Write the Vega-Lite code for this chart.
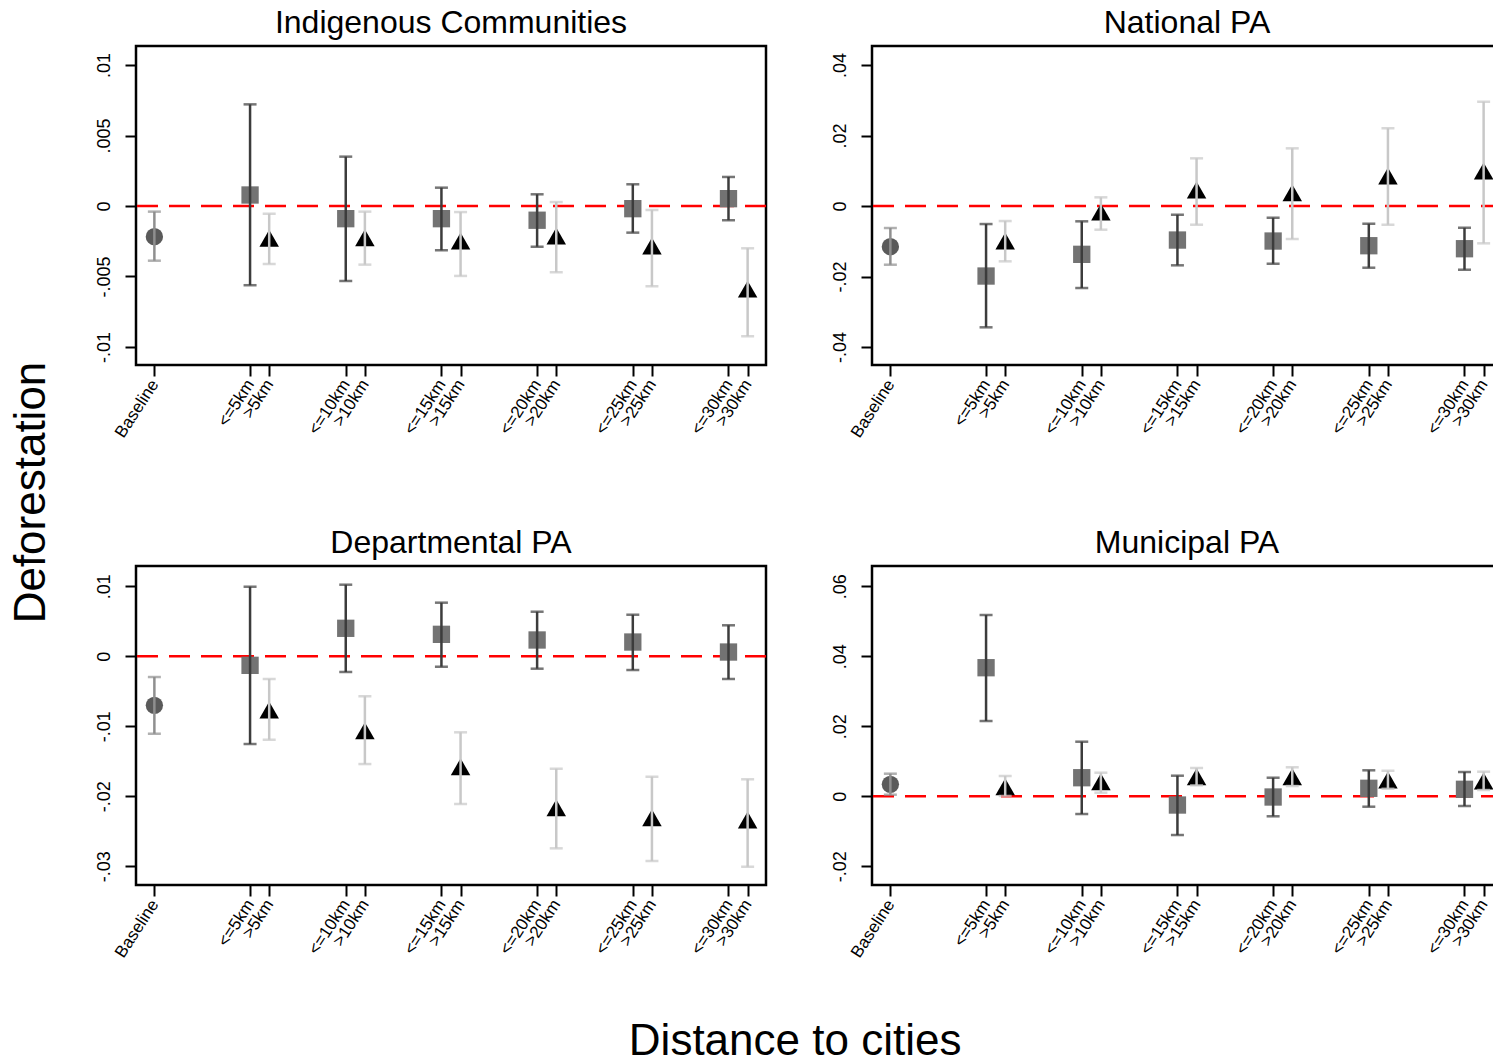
{
"$schema": "https://vega.github.io/schema/vega-lite/v6.json",
"padding": {"left": 9, "top": 5, "right": 0, "bottom": 0},
"background": "white",
"config": {
  "font": "Liberation Sans",
  "view": {"stroke": "#000000", "strokeWidth": 2.5},
  "axis": {"domain": false, "grid": false, "ticks": true, "tickSize": 11, "tickWidth": 2, "tickColor": "#000000", "labelFont": "Liberation Sans", "labelFontSize": 17, "labelColor": "#000000"},
  "axisX": {"labelAngle": -57, "labelAlign": "right", "labelBaseline": "middle", "labelPadding": 5},
  "axisY": {"labelAngle": -90, "labelAlign": "center", "labelBaseline": "bottom", "labelPadding": 12, "labelFontSize": 18},
  "title": {"font": "Liberation Sans", "fontSize": 32, "fontWeight": "normal", "color": "#000000", "offset": 6}
},
"datasets": {
  "ic": [
    {"cat": "Baseline", "type": "base", "est": -0.00218, "lo": -0.00388, "hi": -0.0004},
    {"cat": "<=5km", "type": "le", "est": 0.00078, "lo": -0.00562, "hi": 0.00721},
    {"cat": ">5km", "type": "gt", "est": -0.00229, "lo": -0.00411, "hi": -0.00055},
    {"cat": "<=10km", "type": "le", "est": -0.0009, "lo": -0.00532, "hi": 0.0035},
    {"cat": ">10km", "type": "gt", "est": -0.00225, "lo": -0.00416, "hi": -0.0004},
    {"cat": "<=15km", "type": "le", "est": -0.0009, "lo": -0.00314, "hi": 0.0013},
    {"cat": ">15km", "type": "gt", "est": -0.00248, "lo": -0.00496, "hi": -0.00043},
    {"cat": "<=20km", "type": "le", "est": -0.00101, "lo": -0.00289, "hi": 0.00083},
    {"cat": ">20km", "type": "gt", "est": -0.00213, "lo": -0.0047, "hi": 0.00028},
    {"cat": "<=25km", "type": "le", "est": -0.00019, "lo": -0.00189, "hi": 0.00154},
    {"cat": ">25km", "type": "gt", "est": -0.00284, "lo": -0.0057, "hi": -0.00028},
    {"cat": "<=30km", "type": "le", "est": 0.00052, "lo": -0.00101, "hi": 0.00206},
    {"cat": ">30km", "type": "gt", "est": -0.0059, "lo": -0.00924, "hi": -0.003}
  ],
  "npa": [
    {"cat": "Baseline", "type": "base", "est": -0.01155, "lo": -0.01665, "hi": -0.00624},
    {"cat": "<=5km", "type": "le", "est": -0.01986, "lo": -0.03441, "hi": -0.00511},
    {"cat": ">5km", "type": "gt", "est": -0.00993, "lo": -0.01569, "hi": -0.00426},
    {"cat": "<=10km", "type": "le", "est": -0.0137, "lo": -0.02326, "hi": -0.00434},
    {"cat": ">10km", "type": "gt", "est": -0.0017, "lo": -0.00672, "hi": 0.00247},
    {"cat": "<=15km", "type": "le", "est": -0.00965, "lo": -0.01682, "hi": -0.00247},
    {"cat": ">15km", "type": "gt", "est": 0.00454, "lo": -0.0053, "hi": 0.01353},
    {"cat": "<=20km", "type": "le", "est": -0.00993, "lo": -0.01637, "hi": -0.00332},
    {"cat": ">20km", "type": "gt", "est": 0.00377, "lo": -0.00936, "hi": 0.01637},
    {"cat": "<=25km", "type": "le", "est": -0.01126, "lo": -0.0175, "hi": -0.00502},
    {"cat": ">25km", "type": "gt", "est": 0.00851, "lo": -0.0053, "hi": 0.02204},
    {"cat": "<=30km", "type": "le", "est": -0.01211, "lo": -0.01807, "hi": -0.00616},
    {"cat": ">30km", "type": "gt", "est": 0.00993, "lo": -0.01058, "hi": 0.02959}
  ],
  "dpa": [
    {"cat": "Baseline", "type": "base", "est": -0.007, "lo": -0.01106, "hi": -0.00296},
    {"cat": "<=5km", "type": "le", "est": -0.00129, "lo": -0.01253, "hi": 0.00994},
    {"cat": ">5km", "type": "gt", "est": -0.00767, "lo": -0.01191, "hi": -0.00324},
    {"cat": "<=10km", "type": "le", "est": 0.004, "lo": -0.00224, "hi": 0.01023},
    {"cat": ">10km", "type": "gt", "est": -0.01063, "lo": -0.01539, "hi": -0.00571},
    {"cat": "<=15km", "type": "le", "est": 0.00314, "lo": -0.00149, "hi": 0.00766},
    {"cat": ">15km", "type": "gt", "est": -0.01577, "lo": -0.0211, "hi": -0.01086},
    {"cat": "<=20km", "type": "le", "est": 0.00233, "lo": -0.00177, "hi": 0.00637},
    {"cat": ">20km", "type": "gt", "est": -0.02163, "lo": -0.02743, "hi": -0.01606},
    {"cat": "<=25km", "type": "le", "est": 0.00204, "lo": -0.00196, "hi": 0.00594},
    {"cat": ">25km", "type": "gt", "est": -0.02306, "lo": -0.02924, "hi": -0.0172},
    {"cat": "<=30km", "type": "le", "est": 0.00061, "lo": -0.00324, "hi": 0.00443},
    {"cat": ">30km", "type": "gt", "est": -0.02339, "lo": -0.03006, "hi": -0.01757}
  ],
  "mpa": [
    {"cat": "Baseline", "type": "base", "est": 0.00343, "lo": 0.00046, "hi": 0.00646},
    {"cat": "<=5km", "type": "le", "est": 0.03674, "lo": 0.02151, "hi": 0.0518},
    {"cat": ">5km", "type": "gt", "est": 0.00274, "lo": 0.0001, "hi": 0.0058},
    {"cat": "<=10km", "type": "le", "est": 0.00531, "lo": -0.00506, "hi": 0.0156},
    {"cat": ">10km", "type": "gt", "est": 0.00417, "lo": 0.00103, "hi": 0.00674},
    {"cat": "<=15km", "type": "le", "est": -0.00249, "lo": -0.01106, "hi": 0.00589},
    {"cat": ">15km", "type": "gt", "est": 0.0056, "lo": 0.00314, "hi": 0.00809},
    {"cat": "<=20km", "type": "le", "est": -0.0002, "lo": -0.00571, "hi": 0.00531},
    {"cat": ">20km", "type": "gt", "est": 0.0056, "lo": 0.00294, "hi": 0.00829},
    {"cat": "<=25km", "type": "le", "est": 0.00229, "lo": -0.00297, "hi": 0.00743},
    {"cat": ">25km", "type": "gt", "est": 0.00466, "lo": 0.00217, "hi": 0.00731},
    {"cat": "<=30km", "type": "le", "est": 0.002, "lo": -0.00277, "hi": 0.00694},
    {"cat": ">30km", "type": "gt", "est": 0.00437, "lo": 0.0018, "hi": 0.00703}
  ]
},
"title": {"text": "Distance to cities", "orient": "bottom", "fontSize": 44, "offset": 59, "dx": 38, "anchor": "middle"},
"vconcat": [{
  "title": {"text": "Deforestation", "orient": "left", "fontSize": 44, "offset": 40, "dx": -9, "anchor": "middle"},
  "spacing": 83,
  "vconcat": [
    {"spacing": 60, "hconcat": [
      {"data": {"name": "ic"}, "width": 630, "height": 319, "title": "Indigenous Communities",
       "layer": [
        {"data": {"values": [{}]}, "mark": {"type": "rule", "color": "#ff0000", "strokeDash": [21, 11], "strokeWidth": 2.5},
         "encoding": {"y": {"datum": 0, "type": "quantitative", "scale": {"domain": [-0.01128, 0.01135], "nice": false, "zero": false}, "axis": {"title": null, "values": [-0.01, -0.005, 0, 0.005, 0.01], "labelExpr": "datum.value == 0 ? '0' : (datum.value < 0 ? '-' : '') + replace(format(abs(datum.value), ''), '0.', '.')"}}}},
        {"mark": {"type": "point", "filled": true, "opacity": 1, "strokeWidth": 0},
         "encoding": {
          "x": {"field": "cat", "type": "ordinal", "scale": {"type": "point", "padding": 0.96, "domain": ["Baseline","a1","a2","a3","a4","<=5km",">5km","b1","b2","b3","<=10km",">10km","c1","c2","c3","<=15km",">15km","d1","d2","d3","<=20km",">20km","e1","e2","e3","<=25km",">25km","f1","f2","f3","<=30km",">30km"]}, "axis": {"title": null, "values": ["Baseline","<=5km",">5km","<=10km",">10km","<=15km",">15km","<=20km",">20km","<=25km",">25km","<=30km",">30km"]}},
          "y": {"field": "est", "type": "quantitative", "scale": {"domain": [-0.01128, 0.01135], "nice": false, "zero": false}, "axis": {"title": null, "values": [-0.01, -0.005, 0, 0.005, 0.01], "labelExpr": "datum.value == 0 ? '0' : (datum.value < 0 ? '-' : '') + replace(format(abs(datum.value), ''), '0.', '.')"}},
          "color": {"condition": [{"test": "datum.type === 'gt'", "value": "#000000"}, {"test": "datum.type === 'base'", "value": "#5a5a5a"}], "value": "#737373"},
          "shape": {"condition": [{"test": "datum.type === 'gt'", "value": "triangle-up"}, {"test": "datum.type === 'base'", "value": "circle"}], "value": "square"},
          "size": {"condition": [{"test": "datum.type === 'gt'", "value": 380}], "value": 300}}},
        {"mark": {"type": "rule", "strokeWidth": 2.5},
         "encoding": {
          "x": {"field": "cat", "type": "ordinal", "scale": {"type": "point", "padding": 0.96, "domain": ["Baseline","a1","a2","a3","a4","<=5km",">5km","b1","b2","b3","<=10km",">10km","c1","c2","c3","<=15km",">15km","d1","d2","d3","<=20km",">20km","e1","e2","e3","<=25km",">25km","f1","f2","f3","<=30km",">30km"]}, "axis": {"title": null, "values": ["Baseline","<=5km",">5km","<=10km",">10km","<=15km",">15km","<=20km",">20km","<=25km",">25km","<=30km",">30km"]}},
          "y": {"field": "lo", "type": "quantitative", "scale": {"domain": [-0.01128, 0.01135], "nice": false, "zero": false}, "axis": {"title": null, "values": [-0.01, -0.005, 0, 0.005, 0.01], "labelExpr": "datum.value == 0 ? '0' : (datum.value < 0 ? '-' : '') + replace(format(abs(datum.value), ''), '0.', '.')"}},
          "y2": {"field": "hi"},
          "color": {"condition": [{"test": "datum.type === 'gt'", "value": "#c8c8c8"}, {"test": "datum.type === 'base'", "value": "#8f8f8f"}], "value": "#3c3c3c"}}},
        {"mark": {"type": "tick", "thickness": 2.5, "size": 13},
         "encoding": {
          "x": {"field": "cat", "type": "ordinal", "scale": {"type": "point", "padding": 0.96, "domain": ["Baseline","a1","a2","a3","a4","<=5km",">5km","b1","b2","b3","<=10km",">10km","c1","c2","c3","<=15km",">15km","d1","d2","d3","<=20km",">20km","e1","e2","e3","<=25km",">25km","f1","f2","f3","<=30km",">30km"]}, "axis": {"title": null, "values": ["Baseline","<=5km",">5km","<=10km",">10km","<=15km",">15km","<=20km",">20km","<=25km",">25km","<=30km",">30km"]}},
          "y": {"field": "lo", "type": "quantitative", "scale": {"domain": [-0.01128, 0.01135], "nice": false, "zero": false}, "axis": {"title": null, "values": [-0.01, -0.005, 0, 0.005, 0.01], "labelExpr": "datum.value == 0 ? '0' : (datum.value < 0 ? '-' : '') + replace(format(abs(datum.value), ''), '0.', '.')"}},
          "color": {"condition": [{"test": "datum.type === 'gt'", "value": "#c8c8c8"}, {"test": "datum.type === 'base'", "value": "#8f8f8f"}], "value": "#3c3c3c"}}},
        {"mark": {"type": "tick", "thickness": 2.5, "size": 13},
         "encoding": {
          "x": {"field": "cat", "type": "ordinal", "scale": {"type": "point", "padding": 0.96, "domain": ["Baseline","a1","a2","a3","a4","<=5km",">5km","b1","b2","b3","<=10km",">10km","c1","c2","c3","<=15km",">15km","d1","d2","d3","<=20km",">20km","e1","e2","e3","<=25km",">25km","f1","f2","f3","<=30km",">30km"]}, "axis": {"title": null, "values": ["Baseline","<=5km",">5km","<=10km",">10km","<=15km",">15km","<=20km",">20km","<=25km",">25km","<=30km",">30km"]}},
          "y": {"field": "hi", "type": "quantitative", "scale": {"domain": [-0.01128, 0.01135], "nice": false, "zero": false}, "axis": {"title": null, "values": [-0.01, -0.005, 0, 0.005, 0.01], "labelExpr": "datum.value == 0 ? '0' : (datum.value < 0 ? '-' : '') + replace(format(abs(datum.value), ''), '0.', '.')"}},
          "color": {"condition": [{"test": "datum.type === 'gt'", "value": "#c8c8c8"}, {"test": "datum.type === 'base'", "value": "#8f8f8f"}], "value": "#3c3c3c"}}}
       ]},
      {"data": {"name": "npa"}, "width": 630, "height": 319, "title": "National PA",
       "layer": [
        {"data": {"values": [{}]}, "mark": {"type": "rule", "color": "#ff0000", "strokeDash": [21, 11], "strokeWidth": 2.5},
         "encoding": {"y": {"datum": 0, "type": "quantitative", "scale": {"domain": [-0.0451, 0.0454], "nice": false, "zero": false}, "axis": {"title": null, "values": [-0.04, -0.02, 0, 0.02, 0.04], "labelExpr": "datum.value == 0 ? '0' : (datum.value < 0 ? '-' : '') + replace(format(abs(datum.value), ''), '0.', '.')"}}}},
        {"mark": {"type": "point", "filled": true, "opacity": 1, "strokeWidth": 0},
         "encoding": {
          "x": {"field": "cat", "type": "ordinal", "scale": {"type": "point", "padding": 0.96, "domain": ["Baseline","a1","a2","a3","a4","<=5km",">5km","b1","b2","b3","<=10km",">10km","c1","c2","c3","<=15km",">15km","d1","d2","d3","<=20km",">20km","e1","e2","e3","<=25km",">25km","f1","f2","f3","<=30km",">30km"]}, "axis": {"title": null, "values": ["Baseline","<=5km",">5km","<=10km",">10km","<=15km",">15km","<=20km",">20km","<=25km",">25km","<=30km",">30km"]}},
          "y": {"field": "est", "type": "quantitative", "scale": {"domain": [-0.0451, 0.0454], "nice": false, "zero": false}, "axis": {"title": null, "values": [-0.04, -0.02, 0, 0.02, 0.04], "labelExpr": "datum.value == 0 ? '0' : (datum.value < 0 ? '-' : '') + replace(format(abs(datum.value), ''), '0.', '.')"}},
          "color": {"condition": [{"test": "datum.type === 'gt'", "value": "#000000"}, {"test": "datum.type === 'base'", "value": "#5a5a5a"}], "value": "#737373"},
          "shape": {"condition": [{"test": "datum.type === 'gt'", "value": "triangle-up"}, {"test": "datum.type === 'base'", "value": "circle"}], "value": "square"},
          "size": {"condition": [{"test": "datum.type === 'gt'", "value": 380}], "value": 300}}},
        {"mark": {"type": "rule", "strokeWidth": 2.5},
         "encoding": {
          "x": {"field": "cat", "type": "ordinal", "scale": {"type": "point", "padding": 0.96, "domain": ["Baseline","a1","a2","a3","a4","<=5km",">5km","b1","b2","b3","<=10km",">10km","c1","c2","c3","<=15km",">15km","d1","d2","d3","<=20km",">20km","e1","e2","e3","<=25km",">25km","f1","f2","f3","<=30km",">30km"]}, "axis": {"title": null, "values": ["Baseline","<=5km",">5km","<=10km",">10km","<=15km",">15km","<=20km",">20km","<=25km",">25km","<=30km",">30km"]}},
          "y": {"field": "lo", "type": "quantitative", "scale": {"domain": [-0.0451, 0.0454], "nice": false, "zero": false}, "axis": {"title": null, "values": [-0.04, -0.02, 0, 0.02, 0.04], "labelExpr": "datum.value == 0 ? '0' : (datum.value < 0 ? '-' : '') + replace(format(abs(datum.value), ''), '0.', '.')"}},
          "y2": {"field": "hi"},
          "color": {"condition": [{"test": "datum.type === 'gt'", "value": "#c8c8c8"}, {"test": "datum.type === 'base'", "value": "#8f8f8f"}], "value": "#3c3c3c"}}},
        {"mark": {"type": "tick", "thickness": 2.5, "size": 13},
         "encoding": {
          "x": {"field": "cat", "type": "ordinal", "scale": {"type": "point", "padding": 0.96, "domain": ["Baseline","a1","a2","a3","a4","<=5km",">5km","b1","b2","b3","<=10km",">10km","c1","c2","c3","<=15km",">15km","d1","d2","d3","<=20km",">20km","e1","e2","e3","<=25km",">25km","f1","f2","f3","<=30km",">30km"]}, "axis": {"title": null, "values": ["Baseline","<=5km",">5km","<=10km",">10km","<=15km",">15km","<=20km",">20km","<=25km",">25km","<=30km",">30km"]}},
          "y": {"field": "lo", "type": "quantitative", "scale": {"domain": [-0.0451, 0.0454], "nice": false, "zero": false}, "axis": {"title": null, "values": [-0.04, -0.02, 0, 0.02, 0.04], "labelExpr": "datum.value == 0 ? '0' : (datum.value < 0 ? '-' : '') + replace(format(abs(datum.value), ''), '0.', '.')"}},
          "color": {"condition": [{"test": "datum.type === 'gt'", "value": "#c8c8c8"}, {"test": "datum.type === 'base'", "value": "#8f8f8f"}], "value": "#3c3c3c"}}},
        {"mark": {"type": "tick", "thickness": 2.5, "size": 13},
         "encoding": {
          "x": {"field": "cat", "type": "ordinal", "scale": {"type": "point", "padding": 0.96, "domain": ["Baseline","a1","a2","a3","a4","<=5km",">5km","b1","b2","b3","<=10km",">10km","c1","c2","c3","<=15km",">15km","d1","d2","d3","<=20km",">20km","e1","e2","e3","<=25km",">25km","f1","f2","f3","<=30km",">30km"]}, "axis": {"title": null, "values": ["Baseline","<=5km",">5km","<=10km",">10km","<=15km",">15km","<=20km",">20km","<=25km",">25km","<=30km",">30km"]}},
          "y": {"field": "hi", "type": "quantitative", "scale": {"domain": [-0.0451, 0.0454], "nice": false, "zero": false}, "axis": {"title": null, "values": [-0.04, -0.02, 0, 0.02, 0.04], "labelExpr": "datum.value == 0 ? '0' : (datum.value < 0 ? '-' : '') + replace(format(abs(datum.value), ''), '0.', '.')"}},
          "color": {"condition": [{"test": "datum.type === 'gt'", "value": "#c8c8c8"}, {"test": "datum.type === 'base'", "value": "#8f8f8f"}], "value": "#3c3c3c"}}}
       ]}
    ]},
    {"spacing": 60, "hconcat": [
      {"data": {"name": "dpa"}, "width": 630, "height": 319, "title": "Departmental PA",
       "layer": [
        {"data": {"values": [{}]}, "mark": {"type": "rule", "color": "#ff0000", "strokeDash": [21, 11], "strokeWidth": 2.5},
         "encoding": {"y": {"datum": 0, "type": "quantitative", "scale": {"domain": [-0.03267, 0.0129], "nice": false, "zero": false}, "axis": {"title": null, "values": [-0.03, -0.02, -0.01, 0, 0.01], "labelExpr": "datum.value == 0 ? '0' : (datum.value < 0 ? '-' : '') + replace(format(abs(datum.value), ''), '0.', '.')"}}}},
        {"mark": {"type": "point", "filled": true, "opacity": 1, "strokeWidth": 0},
         "encoding": {
          "x": {"field": "cat", "type": "ordinal", "scale": {"type": "point", "padding": 0.96, "domain": ["Baseline","a1","a2","a3","a4","<=5km",">5km","b1","b2","b3","<=10km",">10km","c1","c2","c3","<=15km",">15km","d1","d2","d3","<=20km",">20km","e1","e2","e3","<=25km",">25km","f1","f2","f3","<=30km",">30km"]}, "axis": {"title": null, "values": ["Baseline","<=5km",">5km","<=10km",">10km","<=15km",">15km","<=20km",">20km","<=25km",">25km","<=30km",">30km"]}},
          "y": {"field": "est", "type": "quantitative", "scale": {"domain": [-0.03267, 0.0129], "nice": false, "zero": false}, "axis": {"title": null, "values": [-0.03, -0.02, -0.01, 0, 0.01], "labelExpr": "datum.value == 0 ? '0' : (datum.value < 0 ? '-' : '') + replace(format(abs(datum.value), ''), '0.', '.')"}},
          "color": {"condition": [{"test": "datum.type === 'gt'", "value": "#000000"}, {"test": "datum.type === 'base'", "value": "#5a5a5a"}], "value": "#737373"},
          "shape": {"condition": [{"test": "datum.type === 'gt'", "value": "triangle-up"}, {"test": "datum.type === 'base'", "value": "circle"}], "value": "square"},
          "size": {"condition": [{"test": "datum.type === 'gt'", "value": 380}], "value": 300}}},
        {"mark": {"type": "rule", "strokeWidth": 2.5},
         "encoding": {
          "x": {"field": "cat", "type": "ordinal", "scale": {"type": "point", "padding": 0.96, "domain": ["Baseline","a1","a2","a3","a4","<=5km",">5km","b1","b2","b3","<=10km",">10km","c1","c2","c3","<=15km",">15km","d1","d2","d3","<=20km",">20km","e1","e2","e3","<=25km",">25km","f1","f2","f3","<=30km",">30km"]}, "axis": {"title": null, "values": ["Baseline","<=5km",">5km","<=10km",">10km","<=15km",">15km","<=20km",">20km","<=25km",">25km","<=30km",">30km"]}},
          "y": {"field": "lo", "type": "quantitative", "scale": {"domain": [-0.03267, 0.0129], "nice": false, "zero": false}, "axis": {"title": null, "values": [-0.03, -0.02, -0.01, 0, 0.01], "labelExpr": "datum.value == 0 ? '0' : (datum.value < 0 ? '-' : '') + replace(format(abs(datum.value), ''), '0.', '.')"}},
          "y2": {"field": "hi"},
          "color": {"condition": [{"test": "datum.type === 'gt'", "value": "#c8c8c8"}, {"test": "datum.type === 'base'", "value": "#8f8f8f"}], "value": "#3c3c3c"}}},
        {"mark": {"type": "tick", "thickness": 2.5, "size": 13},
         "encoding": {
          "x": {"field": "cat", "type": "ordinal", "scale": {"type": "point", "padding": 0.96, "domain": ["Baseline","a1","a2","a3","a4","<=5km",">5km","b1","b2","b3","<=10km",">10km","c1","c2","c3","<=15km",">15km","d1","d2","d3","<=20km",">20km","e1","e2","e3","<=25km",">25km","f1","f2","f3","<=30km",">30km"]}, "axis": {"title": null, "values": ["Baseline","<=5km",">5km","<=10km",">10km","<=15km",">15km","<=20km",">20km","<=25km",">25km","<=30km",">30km"]}},
          "y": {"field": "lo", "type": "quantitative", "scale": {"domain": [-0.03267, 0.0129], "nice": false, "zero": false}, "axis": {"title": null, "values": [-0.03, -0.02, -0.01, 0, 0.01], "labelExpr": "datum.value == 0 ? '0' : (datum.value < 0 ? '-' : '') + replace(format(abs(datum.value), ''), '0.', '.')"}},
          "color": {"condition": [{"test": "datum.type === 'gt'", "value": "#c8c8c8"}, {"test": "datum.type === 'base'", "value": "#8f8f8f"}], "value": "#3c3c3c"}}},
        {"mark": {"type": "tick", "thickness": 2.5, "size": 13},
         "encoding": {
          "x": {"field": "cat", "type": "ordinal", "scale": {"type": "point", "padding": 0.96, "domain": ["Baseline","a1","a2","a3","a4","<=5km",">5km","b1","b2","b3","<=10km",">10km","c1","c2","c3","<=15km",">15km","d1","d2","d3","<=20km",">20km","e1","e2","e3","<=25km",">25km","f1","f2","f3","<=30km",">30km"]}, "axis": {"title": null, "values": ["Baseline","<=5km",">5km","<=10km",">10km","<=15km",">15km","<=20km",">20km","<=25km",">25km","<=30km",">30km"]}},
          "y": {"field": "hi", "type": "quantitative", "scale": {"domain": [-0.03267, 0.0129], "nice": false, "zero": false}, "axis": {"title": null, "values": [-0.03, -0.02, -0.01, 0, 0.01], "labelExpr": "datum.value == 0 ? '0' : (datum.value < 0 ? '-' : '') + replace(format(abs(datum.value), ''), '0.', '.')"}},
          "color": {"condition": [{"test": "datum.type === 'gt'", "value": "#c8c8c8"}, {"test": "datum.type === 'base'", "value": "#8f8f8f"}], "value": "#3c3c3c"}}}
       ]},
      {"data": {"name": "mpa"}, "width": 630, "height": 319, "title": "Municipal PA",
       "layer": [
        {"data": {"values": [{}]}, "mark": {"type": "rule", "color": "#ff0000", "strokeDash": [21, 11], "strokeWidth": 2.5},
         "encoding": {"y": {"datum": 0, "type": "quantitative", "scale": {"domain": [-0.02534, 0.0658], "nice": false, "zero": false}, "axis": {"title": null, "values": [-0.02, 0, 0.02, 0.04, 0.06], "labelExpr": "datum.value == 0 ? '0' : (datum.value < 0 ? '-' : '') + replace(format(abs(datum.value), ''), '0.', '.')"}}}},
        {"mark": {"type": "point", "filled": true, "opacity": 1, "strokeWidth": 0},
         "encoding": {
          "x": {"field": "cat", "type": "ordinal", "scale": {"type": "point", "padding": 0.96, "domain": ["Baseline","a1","a2","a3","a4","<=5km",">5km","b1","b2","b3","<=10km",">10km","c1","c2","c3","<=15km",">15km","d1","d2","d3","<=20km",">20km","e1","e2","e3","<=25km",">25km","f1","f2","f3","<=30km",">30km"]}, "axis": {"title": null, "values": ["Baseline","<=5km",">5km","<=10km",">10km","<=15km",">15km","<=20km",">20km","<=25km",">25km","<=30km",">30km"]}},
          "y": {"field": "est", "type": "quantitative", "scale": {"domain": [-0.02534, 0.0658], "nice": false, "zero": false}, "axis": {"title": null, "values": [-0.02, 0, 0.02, 0.04, 0.06], "labelExpr": "datum.value == 0 ? '0' : (datum.value < 0 ? '-' : '') + replace(format(abs(datum.value), ''), '0.', '.')"}},
          "color": {"condition": [{"test": "datum.type === 'gt'", "value": "#000000"}, {"test": "datum.type === 'base'", "value": "#5a5a5a"}], "value": "#737373"},
          "shape": {"condition": [{"test": "datum.type === 'gt'", "value": "triangle-up"}, {"test": "datum.type === 'base'", "value": "circle"}], "value": "square"},
          "size": {"condition": [{"test": "datum.type === 'gt'", "value": 380}], "value": 300}}},
        {"mark": {"type": "rule", "strokeWidth": 2.5},
         "encoding": {
          "x": {"field": "cat", "type": "ordinal", "scale": {"type": "point", "padding": 0.96, "domain": ["Baseline","a1","a2","a3","a4","<=5km",">5km","b1","b2","b3","<=10km",">10km","c1","c2","c3","<=15km",">15km","d1","d2","d3","<=20km",">20km","e1","e2","e3","<=25km",">25km","f1","f2","f3","<=30km",">30km"]}, "axis": {"title": null, "values": ["Baseline","<=5km",">5km","<=10km",">10km","<=15km",">15km","<=20km",">20km","<=25km",">25km","<=30km",">30km"]}},
          "y": {"field": "lo", "type": "quantitative", "scale": {"domain": [-0.02534, 0.0658], "nice": false, "zero": false}, "axis": {"title": null, "values": [-0.02, 0, 0.02, 0.04, 0.06], "labelExpr": "datum.value == 0 ? '0' : (datum.value < 0 ? '-' : '') + replace(format(abs(datum.value), ''), '0.', '.')"}},
          "y2": {"field": "hi"},
          "color": {"condition": [{"test": "datum.type === 'gt'", "value": "#c8c8c8"}, {"test": "datum.type === 'base'", "value": "#8f8f8f"}], "value": "#3c3c3c"}}},
        {"mark": {"type": "tick", "thickness": 2.5, "size": 13},
         "encoding": {
          "x": {"field": "cat", "type": "ordinal", "scale": {"type": "point", "padding": 0.96, "domain": ["Baseline","a1","a2","a3","a4","<=5km",">5km","b1","b2","b3","<=10km",">10km","c1","c2","c3","<=15km",">15km","d1","d2","d3","<=20km",">20km","e1","e2","e3","<=25km",">25km","f1","f2","f3","<=30km",">30km"]}, "axis": {"title": null, "values": ["Baseline","<=5km",">5km","<=10km",">10km","<=15km",">15km","<=20km",">20km","<=25km",">25km","<=30km",">30km"]}},
          "y": {"field": "lo", "type": "quantitative", "scale": {"domain": [-0.02534, 0.0658], "nice": false, "zero": false}, "axis": {"title": null, "values": [-0.02, 0, 0.02, 0.04, 0.06], "labelExpr": "datum.value == 0 ? '0' : (datum.value < 0 ? '-' : '') + replace(format(abs(datum.value), ''), '0.', '.')"}},
          "color": {"condition": [{"test": "datum.type === 'gt'", "value": "#c8c8c8"}, {"test": "datum.type === 'base'", "value": "#8f8f8f"}], "value": "#3c3c3c"}}},
        {"mark": {"type": "tick", "thickness": 2.5, "size": 13},
         "encoding": {
          "x": {"field": "cat", "type": "ordinal", "scale": {"type": "point", "padding": 0.96, "domain": ["Baseline","a1","a2","a3","a4","<=5km",">5km","b1","b2","b3","<=10km",">10km","c1","c2","c3","<=15km",">15km","d1","d2","d3","<=20km",">20km","e1","e2","e3","<=25km",">25km","f1","f2","f3","<=30km",">30km"]}, "axis": {"title": null, "values": ["Baseline","<=5km",">5km","<=10km",">10km","<=15km",">15km","<=20km",">20km","<=25km",">25km","<=30km",">30km"]}},
          "y": {"field": "hi", "type": "quantitative", "scale": {"domain": [-0.02534, 0.0658], "nice": false, "zero": false}, "axis": {"title": null, "values": [-0.02, 0, 0.02, 0.04, 0.06], "labelExpr": "datum.value == 0 ? '0' : (datum.value < 0 ? '-' : '') + replace(format(abs(datum.value), ''), '0.', '.')"}},
          "color": {"condition": [{"test": "datum.type === 'gt'", "value": "#c8c8c8"}, {"test": "datum.type === 'base'", "value": "#8f8f8f"}], "value": "#3c3c3c"}}}
       ]}
    ]}
  ]
}]
}
